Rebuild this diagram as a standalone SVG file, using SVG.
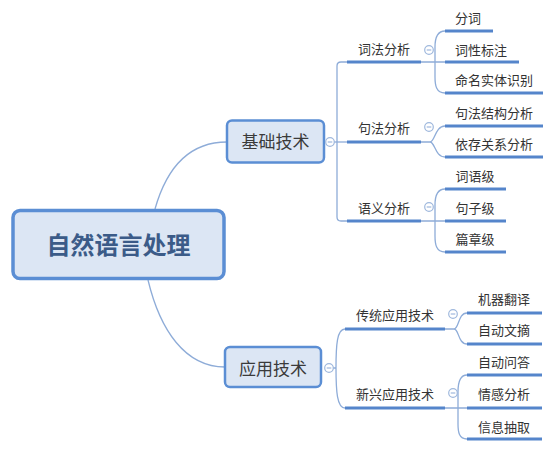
<svg xmlns="http://www.w3.org/2000/svg" width="554" height="449" viewBox="0 0 554 449">
<style>
text{font-family:"Noto Sans CJK SC","Liberation Sans",sans-serif;}
.t1{font-size:17px;fill:#3a3a3a;text-anchor:middle;}
.t2{font-size:13px;fill:#333;text-anchor:middle;}
.ul{stroke:#5585cb;stroke-width:3;stroke-linecap:butt;fill:none;}
.cn{stroke:#8eacd8;stroke-width:1.3;fill:none;}
.box{fill:#dce6f4;stroke:#5b8ed4;stroke-width:2.5;}
.tog circle{fill:#fff;stroke:#9fb8dd;stroke-width:1.2;}
.tog line{stroke:#9fb8dd;stroke-width:1.2;}
</style>
<defs>
<g id="tg" class="tog"><circle cx="0" cy="0" r="4.3"/><line x1="-2.3" y1="0" x2="2.3" y2="0"/></g>
</defs>
<rect width="554" height="449" fill="#fff"/>
<g id="connectors">
<path class="cn" d="M155,209 C168,163 192,142 227,142"/>
<path class="cn" d="M148,280 C160,330 185,367 225,367"/>
<path class="cn" d="M334,142 L347,142"/>
<path class="cn" d="M347,62 L341,62 Q337,62 337,66 L337,217 Q337,221 341,221 L347,221"/>
<path class="cn" d="M421,62 L445,62 M445,31 C436,31 435,40 435,47 L435,77 C435,85 436,93 445,93"/>
<path class="cn" d="M421,142 L430,142 M430,142 C435,142 435,126 445,126 M430,142 C435,142 435,157 445,157"/>
<path class="cn" d="M421,221 L445,221 M445,189 C436,189 435,198 435,205 L435,236 C435,244 436,252 445,252"/>
<path class="cn" d="M333,368 L336,368 M345,329 C337,329 336,345 336,368 C336,391 337,408 345,408"/>
<path class="cn" d="M445,329 L454,329 M454,329 C459,329 458,313 467,313 M454,329 C459,329 458,344 467,344"/>
<path class="cn" d="M445,408 L467,408 M467,375 C459,375 458,385 458,392 L458,424 C458,432 459,439 467,439"/>
</g>
<g id="root">
<rect x="13" y="210.5" width="211" height="68" rx="7" fill="#dce6f4" stroke="#5b8ed4" stroke-width="3.5"/>
<text x="118.5" y="254" style="font-size:24px;font-weight:bold;fill:#3b5b88;text-anchor:middle;">自然语言处理</text>
</g>
<g id="n-jichu">
<rect class="box" x="227" y="120.5" width="97" height="42" rx="5"/>
<text class="t1" x="275.5" y="148">基础技术</text>
<use href="#tg" x="330" y="142"/>
</g>
<g id="n-yingyong">
<rect class="box" x="225" y="347" width="96" height="40" rx="5"/>
<text class="t1" x="273" y="375">应用技术</text>
<use href="#tg" x="329" y="368"/>
</g>
<g id="n-cifa">
<line class="ul" x1="347" y1="62" x2="421" y2="62"/>
<text class="t2" x="384" y="54">词法分析</text>
<use href="#tg" x="429" y="50"/>
</g>
<g id="n-jufa">
<line class="ul" x1="347" y1="142" x2="421" y2="142"/>
<text class="t2" x="384" y="133">句法分析</text>
<use href="#tg" x="429" y="127"/>
</g>
<g id="n-yuyi">
<line class="ul" x1="347" y1="221" x2="421" y2="221"/>
<text class="t2" x="384" y="213">语义分析</text>
<use href="#tg" x="429" y="207"/>
</g>
<g id="n-fenci"><line class="ul" x1="445" y1="31" x2="493" y2="31"/><text class="t2" x="468" y="23">分词</text></g>
<g id="n-cixing"><line class="ul" x1="445" y1="62" x2="519" y2="62"/><text class="t2" x="481" y="55">词性标注</text></g>
<g id="n-mingming"><line class="ul" x1="445" y1="93" x2="543" y2="93"/><text class="t2" x="494" y="85">命名实体识别</text></g>
<g id="n-jufajiegou"><line class="ul" x1="445" y1="126" x2="543" y2="126"/><text class="t2" x="494" y="118">句法结构分析</text></g>
<g id="n-yicun"><line class="ul" x1="445" y1="157" x2="543" y2="157"/><text class="t2" x="494" y="149">依存关系分析</text></g>
<g id="n-ciyu"><line class="ul" x1="445" y1="189" x2="506" y2="189"/><text class="t2" x="475" y="181">词语级</text></g>
<g id="n-juzi"><line class="ul" x1="445" y1="221" x2="506" y2="221"/><text class="t2" x="475" y="213">句子级</text></g>
<g id="n-pianzhang"><line class="ul" x1="445" y1="252" x2="506" y2="252"/><text class="t2" x="475" y="244">篇章级</text></g>
<g id="n-chuantong">
<line class="ul" x1="345" y1="329" x2="445" y2="329"/>
<text class="t2" x="395" y="320">传统应用技术</text>
<use href="#tg" x="453" y="314"/>
</g>
<g id="n-xinxing">
<line class="ul" x1="345" y1="408" x2="445" y2="408"/>
<text class="t2" x="395" y="399">新兴应用技术</text>
<use href="#tg" x="453" y="393"/>
</g>
<g id="n-jiqi"><line class="ul" x1="467" y1="313" x2="542" y2="313"/><text class="t2" x="504" y="304">机器翻译</text></g>
<g id="n-wenzhai"><line class="ul" x1="467" y1="344" x2="542" y2="344"/><text class="t2" x="504" y="335">自动文摘</text></g>
<g id="n-wenda"><line class="ul" x1="467" y1="375" x2="542" y2="375"/><text class="t2" x="504" y="367">自动问答</text></g>
<g id="n-qinggan"><line class="ul" x1="467" y1="408" x2="542" y2="408"/><text class="t2" x="504" y="399">情感分析</text></g>
<g id="n-xinxi"><line class="ul" x1="467" y1="439" x2="542" y2="439"/><text class="t2" x="504" y="432">信息抽取</text></g>
</svg>
